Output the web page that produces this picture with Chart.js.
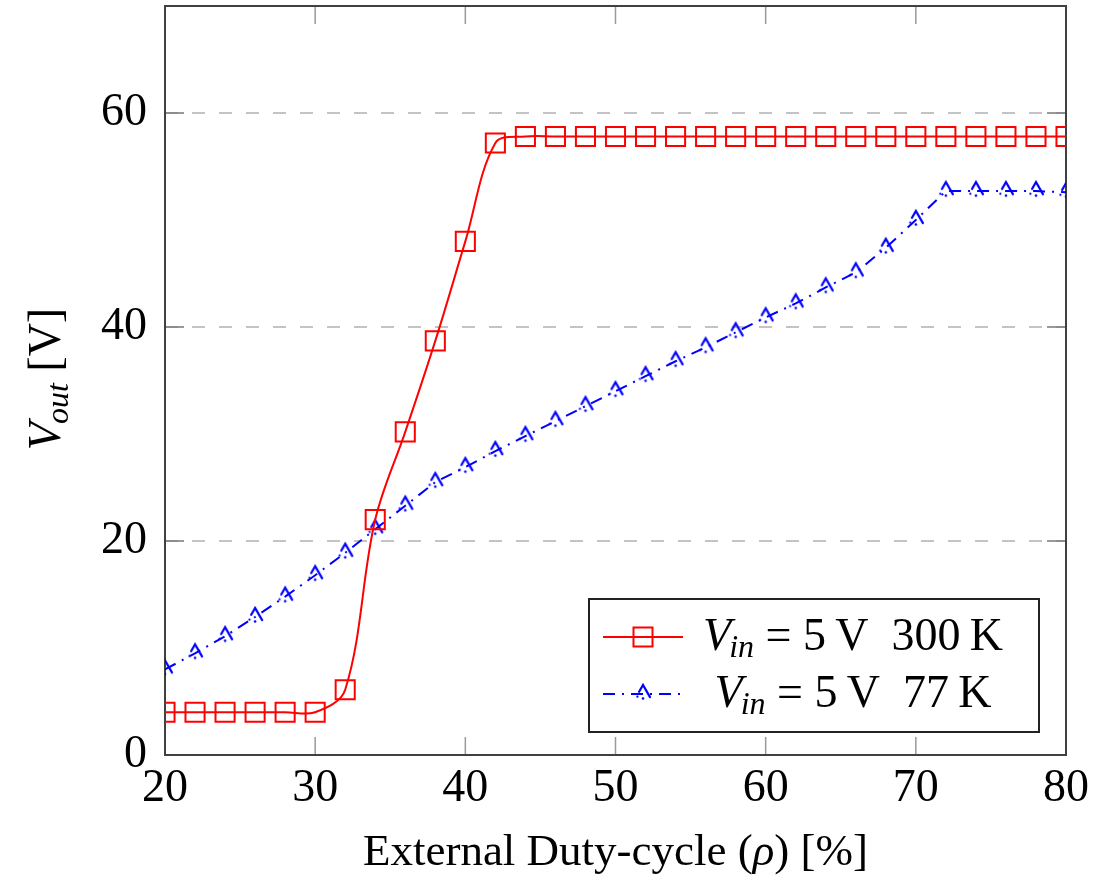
<!DOCTYPE html>
<html>
<head>
<meta charset="utf-8">
<script src="https://cdn.jsdelivr.net/npm/chart.js@4.4.1/dist/chart.umd.min.js"></script>
<style>
  html, body { margin: 0; padding: 0; background: #fff; }
</style>
</head>
<body>
<canvas id="chart" width="1114" height="880"></canvas>
<script>
// ---- data ----
const duty = [20, 22, 24, 26, 28, 30, 32, 34, 36, 38, 40, 42, 44, 46, 48, 50,
              52, 54, 56, 58, 60, 62, 64, 66, 68, 70, 72, 74, 76, 78, 80];
const vout300K = [4.0, 4.0, 4.0, 4.0, 4.0, 4.0, 6.1, 22.0, 30.2, 38.7, 48.0, 57.2,
                  57.8, 57.8, 57.8, 57.8, 57.8, 57.8, 57.8, 57.8, 57.8, 57.8, 57.8,
                  57.8, 57.8, 57.8, 57.8, 57.8, 57.8, 57.8, 57.8];
const vout77K = [8.0, 9.5, 11.1, 12.9, 14.8, 16.8, 18.9, 21.1, 23.3, 25.5, 26.9, 28.4,
                 29.8, 31.2, 32.6, 34.0, 35.4, 36.8, 38.1, 39.5, 40.9, 42.2, 43.7,
                 45.1, 47.4, 50.0, 52.7, 52.7, 52.7, 52.7, 52.6];
const xTicks = [20, 30, 40, 50, 60, 70, 80];
const yTicks = [0, 20, 40, 60];
// legend / axis texts: [main, subscript, rest]
const legendNames = [
  ['V', 'in', ' = 5\u2009V  300\u2009K'],
  ['V', 'in', ' = 5\u2009V  77\u2009K']
];
const yTitle = ['V', 'out', ' [V]'];
// x title pieces: [upright, italic, upright]
const xTitle = ['External Duty-cycle (', '\u03c1', ') [%]'];

const RED = '#ff0000';
const BLUE = '#0000ff';
const SERIF = '"Liberation Serif", "DejaVu Serif", serif';

// open triangle drawn with the dash-dot look of the original marks
function makeTriangle(r, color) {
  const c = document.createElement('canvas');
  const s = Math.ceil(2 * r + 6);
  c.width = s; c.height = s;
  const g = c.getContext('2d');
  const cx = s / 2, cy = s / 2;
  const p = [0, 1, 2].map(i => [cx + Math.sin(i * 2 * Math.PI / 3) * r,
                                cy - Math.cos(i * 2 * Math.PI / 3) * r]);
  const t = 0.5;
  g.strokeStyle = color;
  g.lineWidth = 2.2;
  g.lineCap = 'round';
  g.beginPath();
  g.moveTo(p[0][0] + (p[2][0] - p[0][0]) * t, p[0][1] + (p[2][1] - p[0][1]) * t);
  g.lineTo(p[0][0], p[0][1]);
  g.lineTo(p[0][0] + (p[1][0] - p[0][0]) * 0.9, p[0][1] + (p[1][1] - p[0][1]) * 0.9);
  g.stroke();
  g.fillStyle = color;
  g.beginPath();
  g.arc(cx, cy + r / 2, 1.3, 0, Math.PI * 2);
  g.fill();
  g.beginPath();
  g.arc(cx - r * 0.62, cy + r * 0.3, 1.1, 0, Math.PI * 2);
  g.fill();
  return c;
}
const triImg = makeTriangle(9, BLUE);

// text with an italic main letter and italic subscript
function mathParts(ctx, parts, size) {
  const fMain = 'italic ' + size + 'px ' + SERIF;
  const fSub = 'italic ' + Math.round(size * 0.7) + 'px ' + SERIF;
  const fRest = size + 'px ' + SERIF;
  const fonts = [fMain, fSub, fRest];
  const widths = parts.map((t, i) => { ctx.font = fonts[i]; return ctx.measureText(t).width; });
  return { fonts, widths, total: widths.reduce((a, b) => a + b, 0) };
}
function drawMath(ctx, parts, size, x, y, subDrop) {
  const m = mathParts(ctx, parts, size);
  let cx = x - m.total / 2;
  ctx.textAlign = 'left';
  ctx.textBaseline = 'alphabetic';
  ctx.fillStyle = '#000';
  parts.forEach((t, i) => {
    ctx.font = m.fonts[i];
    ctx.fillText(t, cx, i === 1 ? y + subDrop : y);
    cx += m.widths[i] + (i === 0 ? -2 : 0);
  });
}
function drawXTitle(ctx, parts, size, x, y) {
  const fonts = [size + 'px ' + SERIF, 'italic ' + size + 'px ' + SERIF, size + 'px ' + SERIF];
  const widths = parts.map((t, i) => { ctx.font = fonts[i]; return ctx.measureText(t).width; });
  let cx = x - widths.reduce((a, b) => a + b, 0) / 2;
  ctx.textAlign = 'left';
  ctx.textBaseline = 'alphabetic';
  ctx.fillStyle = '#000';
  parts.forEach((t, i) => {
    ctx.font = fonts[i];
    ctx.fillText(t, cx, y);
    cx += widths[i];
  });
}

const framePlugin = {
  id: 'frame',
  beforeDatasetsDraw(chart) {
    const { ctx, chartArea: a, scales: { x, y } } = chart;
    ctx.save();
    ctx.lineWidth = 1.5;
    ctx.strokeStyle = '#9a9a9a';
    xTicks.forEach(v => {
      const px = x.getPixelForValue(v);
      ctx.beginPath();
      ctx.moveTo(px, a.bottom); ctx.lineTo(px, a.bottom - 18);
      ctx.moveTo(px, a.top); ctx.lineTo(px, a.top + 18);
      ctx.stroke();
    });
    ctx.strokeStyle = '#7a7a7a';
    yTicks.forEach(v => {
      const py = y.getPixelForValue(v);
      ctx.beginPath();
      ctx.moveTo(a.left, py); ctx.lineTo(a.left + 19, py);
      ctx.moveTo(a.right, py); ctx.lineTo(a.right - 19, py);
      ctx.stroke();
    });
    ctx.lineWidth = 2;
    ctx.strokeStyle = '#404040';
    ctx.strokeRect(a.left, a.top, a.right - a.left, a.bottom - a.top);
    ctx.restore();
  },
  afterDraw(chart) {
    const { ctx, chartArea: a } = chart;
    ctx.save();
    drawXTitle(ctx, xTitle, 45, (a.left + a.right) / 2, 865);
    // y axis title
    ctx.translate(60, 378);
    ctx.rotate(-Math.PI / 2);
    drawMath(ctx, yTitle, 46, 0, 0, 8);
    ctx.restore();

    // legend
    ctx.save();
    const box = { l: 589, t: 599, r: 1039, b: 732 };
    ctx.fillStyle = '#fff';
    ctx.fillRect(box.l, box.t, box.r - box.l, box.b - box.t);
    ctx.lineWidth = 2;
    ctx.strokeStyle = '#222';
    ctx.strokeRect(box.l, box.t, box.r - box.l, box.b - box.t);
    const rows = [637, 694];
    // red entry
    ctx.strokeStyle = RED;
    ctx.lineWidth = 2;
    ctx.beginPath(); ctx.moveTo(603, rows[0]); ctx.lineTo(683, rows[0]); ctx.stroke();
    ctx.strokeRect(643 - 9.5, rows[0] - 9.5, 19, 19);
    // blue entry
    ctx.strokeStyle = BLUE;
    ctx.setLineDash([12, 7, 2, 7]);
    ctx.beginPath(); ctx.moveTo(603, rows[1]); ctx.lineTo(683, rows[1]); ctx.stroke();
    ctx.setLineDash([]);
    ctx.drawImage(triImg, 643 - triImg.width / 2, rows[1] - triImg.height / 2);
    drawMath(ctx, legendNames[0], 46, 854, 650, 7);
    drawMath(ctx, legendNames[1], 46, 854, 707, 7);
    ctx.restore();
  }
};

new Chart(document.getElementById('chart'), {
  type: 'line',
  data: {
    datasets: [
      {
        label: 'Vin = 5 V 300 K',
        data: duty.map((d, i) => ({ x: d, y: vout300K[i] })),
        borderColor: RED,
        borderWidth: 2,
        tension: 0.35,
        pointStyle: 'rect',
        pointRadius: 13.5,
        pointBorderWidth: 2,
        pointBorderColor: RED,
        pointBackgroundColor: 'rgba(0,0,0,0)',
        fill: false
      },
      {
        label: 'Vin = 5 V 77 K',
        data: duty.map((d, i) => ({ x: d, y: vout77K[i] })),
        borderColor: BLUE,
        borderWidth: 2,
        borderDash: [12, 7, 2, 7],
        tension: 0,
        pointStyle: triImg,
        pointRadius: 9,
        fill: false
      }
    ]
  },
  options: {
    responsive: false,
    animation: false,
    devicePixelRatio: 1,
    layout: { autoPadding: false, padding: { left: 0, right: 48, top: 6, bottom: 0 } },
    plugins: { legend: { display: false }, tooltip: { enabled: false } },
    scales: {
      x: {
        type: 'linear',
        min: 20, max: 80,
        afterFit: s => { s.height = 125; s.paddingLeft = 0; s.paddingRight = 0; },
        afterBuildTicks: s => { s.ticks = xTicks.map(v => ({ value: v })); },
        grid: { display: false, drawTicks: false },
        border: { display: false },
        ticks: { color: '#000', padding: 6, maxRotation: 0, font: { family: SERIF, size: 46 } }
      },
      y: {
        min: 0, max: 70,
        afterFit: s => { s.width = 165; s.paddingTop = 0; s.paddingBottom = 0; },
        afterBuildTicks: s => { s.ticks = yTicks.map(v => ({ value: v })); },
        grid: { color: '#c4c4c4', lineWidth: 2, drawTicks: false },
        border: { display: false, dash: [13, 14] },
        ticks: { color: '#000', padding: 18, font: { family: SERIF, size: 46 } }
      }
    }
  },
  plugins: [framePlugin]
});
</script>
</body>
</html>
